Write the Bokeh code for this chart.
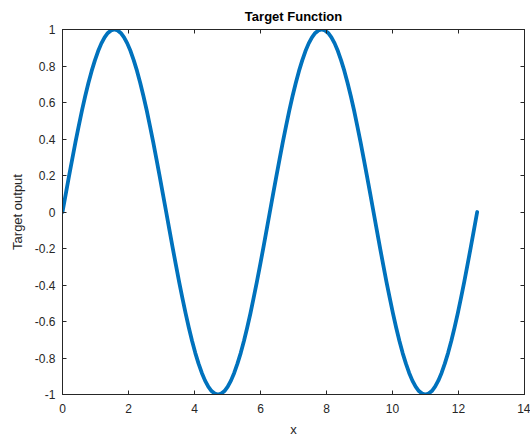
from bokeh.plotting import figure
from bokeh.models import LinearAxis, FixedTicker, Range1d
from bokeh.embed import file_html
from bokeh.resources import INLINE

# Sampled target function: x over two full periods, and its output
x_vals = [0.000, 0.098, 0.196, 0.295, 0.393, 0.491, 0.589, 0.687, 0.785, 0.884,
          0.982, 1.080, 1.178, 1.276, 1.374, 1.473, 1.571, 1.669, 1.767, 1.865,
          1.963, 2.062, 2.160, 2.258, 2.356, 2.454, 2.553, 2.651, 2.749, 2.847,
          2.945, 3.043, 3.142, 3.240, 3.338, 3.436, 3.534, 3.632, 3.731, 3.829,
          3.927, 4.025, 4.123, 4.222, 4.320, 4.418, 4.516, 4.614, 4.712, 4.811,
          4.909, 5.007, 5.105, 5.203, 5.301, 5.400, 5.498, 5.596, 5.694, 5.792,
          5.890, 5.989, 6.087, 6.185, 6.283, 6.381, 6.480, 6.578, 6.676, 6.774,
          6.872, 6.970, 7.069, 7.167, 7.265, 7.363, 7.461, 7.560, 7.658, 7.756,
          7.854, 7.952, 8.050, 8.149, 8.247, 8.345, 8.443, 8.541, 8.639, 8.738,
          8.836, 8.934, 9.032, 9.130, 9.228, 9.327, 9.425, 9.523, 9.621, 9.719,
          9.817, 9.916, 10.014, 10.112, 10.210, 10.308, 10.407, 10.505, 10.603,
          10.701, 10.799, 10.897, 10.996, 11.094, 11.192, 11.290, 11.388, 11.487,
          11.585, 11.683, 11.781, 11.879, 11.977, 12.076, 12.174, 12.272, 12.370,
          12.468, 12.566]
y_vals = [0.0, 0.098, 0.195, 0.290, 0.383, 0.471, 0.556, 0.634, 0.707, 0.773,
          0.831, 0.882, 0.924, 0.957, 0.981, 0.995, 1.0, 0.995, 0.981, 0.957,
          0.924, 0.882, 0.831, 0.773, 0.707, 0.634, 0.556, 0.471, 0.383, 0.290,
          0.195, 0.098, 0.0, -0.098, -0.195, -0.290, -0.383, -0.471, -0.556, -0.634,
          -0.707, -0.773, -0.831, -0.882, -0.924, -0.957, -0.981, -0.995, -1.0,
          -0.995, -0.981, -0.957, -0.924, -0.882, -0.831, -0.773, -0.707, -0.634,
          -0.556, -0.471, -0.383, -0.290, -0.195, -0.098, 0.0, 0.098, 0.195, 0.290,
          0.383, 0.471, 0.556, 0.634, 0.707, 0.773, 0.831, 0.882, 0.924, 0.957,
          0.981, 0.995, 1.0, 0.995, 0.981, 0.957, 0.924, 0.882, 0.831, 0.773, 0.707,
          0.634, 0.556, 0.471, 0.383, 0.290, 0.195, 0.098, 0.0, -0.098, -0.195,
          -0.290, -0.383, -0.471, -0.556, -0.634, -0.707, -0.773, -0.831, -0.882,
          -0.924, -0.957, -0.981, -0.995, -1.0, -0.995, -0.981, -0.957, -0.924,
          -0.882, -0.831, -0.773, -0.707, -0.634, -0.556, -0.471, -0.383, -0.290,
          -0.195, -0.098, 0.0]

x_ticks = [0, 2, 4, 6, 8, 10, 12, 14]
y_ticks = [-1.0, -0.8, -0.6, -0.4, -0.2, 0.0, 0.2, 0.4, 0.6, 0.8, 1.0]
y_tick_labels = ["-1", "-0.8", "-0.6", "-0.4", "-0.2", "0", "0.2", "0.4", "0.6", "0.8", "1"]

INK = "#262626"
FONT = "Liberation Sans"

p = figure(width=530, height=441, output_backend="svg", toolbar_location=None,
           x_range=Range1d(0, 14), y_range=Range1d(-1, 1),
           min_border_left=62, min_border_right=6, min_border_top=29, min_border_bottom=47,
           background_fill_color="white", border_fill_color="white")

p.title.text = "Target Function"
p.title.align = "center"
p.title.text_font = FONT
p.title.text_font_size = "13px"
p.title.text_font_style = "bold"
p.title.text_color = "black"
p.title.standoff = 12

p.outline_line_color = INK
p.xgrid.visible = False
p.ygrid.visible = False

p.line(x_vals, y_vals, line_color="#0072BD", line_width=3.8,
       line_join="round", line_cap="round")

def style_axis(ax):
    ax.axis_line_color = INK
    ax.major_tick_line_color = INK
    ax.major_tick_in = 4
    ax.major_tick_out = 0
    ax.minor_tick_line_color = None
    ax.major_label_text_font = FONT
    ax.major_label_text_font_size = "12px"
    ax.major_label_text_color = INK
    ax.axis_label_text_font = FONT
    ax.axis_label_text_font_size = "13px"
    ax.axis_label_text_font_style = "normal"
    ax.axis_label_text_color = INK

# bottom / left axes with labels
xa = p.xaxis[0]
xa.ticker = FixedTicker(ticks=x_ticks)
style_axis(xa)
xa.axis_label = "x"
xa.major_label_standoff = 9
xa.axis_label_standoff = 6

ya = p.yaxis[0]
ya.ticker = FixedTicker(ticks=y_ticks)
style_axis(ya)
ya.major_label_overrides = {t: s for t, s in zip(y_ticks, y_tick_labels)}
ya.axis_label = "Target output"
ya.major_label_standoff = 7
ya.axis_label_standoff = 7

# box: top and right axes carry ticks only
top = LinearAxis(ticker=FixedTicker(ticks=x_ticks))
style_axis(top)
top.major_label_overrides = {t: "" for t in x_ticks}
top.major_label_standoff = 0
p.add_layout(top, "above")

right = LinearAxis(ticker=FixedTicker(ticks=y_ticks))
style_axis(right)
right.major_label_overrides = {t: "" for t in y_ticks}
right.major_label_standoff = 0
p.add_layout(right, "right")

open("out.html", "w").write(file_html(p, INLINE))
